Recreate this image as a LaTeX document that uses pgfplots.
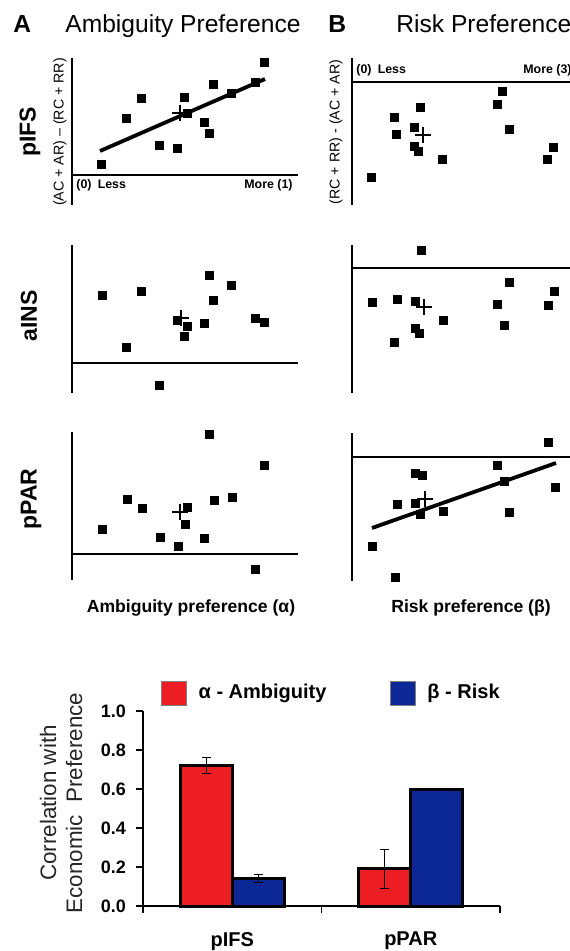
\documentclass[border=0pt]{standalone}
\usepackage{fontspec}
\setmainfont{Liberation Sans}
\usepackage{pgfplots}
\pgfplotsset{compat=1.18}
\definecolor{barred}{RGB}{236,30,36}
\definecolor{barblue}{RGB}{12,40,150}

\pgfplotsset{
  scat/.style={anchor=south west, clip=false, enlargelimits=false,
    axis lines=middle, axis line style={-, line width=0.6pt}, ticks=none,
    xmin=0},
  scatA/.style={scat, x=113pt, y=50pt, xmax=1},
  scatB/.style={scat, x=38pt, y=50pt, xmax=3},
  pts/.style={only marks, mark=square*, mark size=2pt, black},
  mean/.style={only marks, mark=+, mark size=4pt, black, mark options={line width=0.6pt}},
  fit/.style={black, line width=1.9pt, mark=none},
}

\begin{document}
\begin{tikzpicture}
\useasboundingbox (0,0) rectangle (284.5pt,-475.5pt);

% ---- A: ambiguity preference ----
\begin{axis}[scatA, at={(36pt,-102.5pt)}, ymin=-0.30, ymax=1.17]
\addplot[pts] coordinates {(0.128,0.11)(0.239,0.57)(0.305,0.77)(0.385,0.30)(0.465,0.27)
  (0.496,0.78)(0.509,0.62)(0.584,0.53)(0.606,0.42)(0.624,0.91)(0.704,0.82)(0.810,0.93)(0.850,1.13)};
\addplot[fit] coordinates {(0.124,0.24)(0.854,0.96)};
\addplot[mean] coordinates {(0.478,0.62)};
\end{axis}

\begin{axis}[scatA, at={(36pt,-196.5pt)}, ymin=-0.30, ymax=1.18]
\addplot[pts] coordinates {(0.133,0.68)(0.239,0.16)(0.305,0.72)(0.385,-0.22)(0.465,0.43)
  (0.496,0.27)(0.509,0.37)(0.584,0.40)(0.606,0.88)(0.624,0.63)(0.704,0.78)(0.810,0.45)(0.850,0.41)};
\addplot[mean] coordinates {(0.482,0.45)};
\end{axis}

\begin{axis}[scatA, at={(36pt,-290pt)}, ymin=-0.26, ymax=1.22]
\addplot[pts] coordinates {(0.133,0.25)(0.243,0.55)(0.310,0.46)(0.389,0.17)(0.469,0.08)
  (0.500,0.30)(0.509,0.47)(0.588,0.16)(0.606,1.20)(0.628,0.54)(0.708,0.57)(0.810,-0.15)(0.850,0.89)};
\addplot[mean] coordinates {(0.478,0.42)};
\end{axis}

% ---- B: risk preference ----
\begin{axis}[scatB, at={(176pt,-102.5pt)}, ymin=-1.23, ymax=0.24]
\addplot[pts] coordinates {(0.250,-0.95)(0.553,-0.35)(0.579,-0.52)(0.816,-0.45)(0.816,-0.64)
  (0.868,-0.69)(0.895,-0.25)(1.184,-0.77)(1.908,-0.22)(1.974,-0.09)(2.066,-0.47)(2.566,-0.77)(2.645,-0.65)};
\addplot[mean] coordinates {(0.934,-0.53)};
\end{axis}

\begin{axis}[scatB, at={(176pt,-196.5pt)}, ymin=-1.25, ymax=0.23]
\addplot[pts] coordinates {(0.263,-0.34)(0.553,-0.74)(0.592,-0.31)(0.829,-0.33)(0.829,-0.60)
  (0.882,-0.65)(0.908,0.18)(1.197,-0.52)(1.908,-0.36)(2.000,-0.57)(2.066,-0.14)(2.579,-0.37)(2.658,-0.23)};
\addplot[mean] coordinates {(0.947,-0.39)};
\end{axis}

\begin{axis}[scatB, at={(176pt,-290.5pt)}, ymin=-1.24, ymax=0.24]
\addplot[pts] coordinates {(0.263,-0.89)(0.566,-1.20)(0.592,-0.47)(0.829,-0.16)(0.829,-0.46)
  (0.895,-0.57)(0.921,-0.18)(1.197,-0.54)(1.908,-0.08)(2.000,-0.24)(2.066,-0.55)(2.579,0.15)(2.671,-0.30)};
\addplot[fit] coordinates {(0.263,-0.71)(2.684,-0.06)};
\addplot[mean] coordinates {(0.961,-0.42)};
\end{axis}

% ---- bar chart ----
\begin{axis}[anchor=south west, at={(71.5pt,-453pt)},
  x=89.25pt, y=97.5pt, xmin=-0.5, xmax=1.5, ymin=0, ymax=1,
  enlargelimits=false, clip=false,
  axis x line=bottom, axis y line=left,
  axis line style={-, line width=0.6pt},
  tick align=outside, major tick length=3.5pt, tick style={line width=0.6pt, black},
  ybar=0pt, bar width=26pt,
  xtick={-0.5,0.5,1.5}, x tick label as interval, xticklabels={pIFS,pPAR},
  xticklabel style={font=\bfseries\fontsize{10}{12}\selectfont, yshift=-6pt},
  ytick={0,0.2,0.4,0.6,0.8,1},
  yticklabel style={font=\bfseries\fontsize{9}{11}\selectfont, xshift=-1.5pt,
    /pgf/number format/fixed, /pgf/number format/fixed zerofill,
    /pgf/number format/precision=1, /pgf/number format/assume math mode=true},
  every axis plot/.append style={draw=black, line width=1.5pt,
    error bars/y dir=both, error bars/y explicit,
    error bars/error bar style={line width=0.5pt, black},
    error bars/error mark options={rotate=90, mark size=2.2pt, line width=0.5pt, black}},
  legend style={draw=none, fill=none, at={(0.53,1.092)}, anchor=center,
    font=\bfseries\fontsize{10}{12}\selectfont,
    /tikz/every even column/.append style={column sep=29.5pt}},
  legend columns=2,
  legend image code/.code={\draw[#1, line width=0.4pt, draw=black!50] (0pt,-6pt) rectangle (12.5pt,6pt);
    \path (16pt,0pt);},
]
\addplot[fill=barred] coordinates {(0,0.72) +- (0,0.04) (1,0.19) +- (0,0.10)};
\addlegendentry{α - Ambiguity}
\addplot[fill=barblue] coordinates {(0,0.14) +- (0,0.02) (1,0.60) +- (0,0.005)};
\addlegendentry{β - Risk}
\end{axis}

% ---- text ----
\begin{scope}[x=0.5pt, y=-0.5pt]
\node[anchor=base west, inner sep=0, font=\bfseries\fontsize{12.3}{14}\selectfont] at (13,33) {A};
\node[anchor=base west, inner sep=0, font=\fontsize{12.3}{14}\selectfont] at (65,33) {Ambiguity Preference};
\node[anchor=base west, inner sep=0, font=\bfseries\fontsize{12.3}{14}\selectfont] at (328,33) {B};
\node[anchor=base west, inner sep=0, font=\fontsize{12.3}{14}\selectfont] at (396,33) {Risk Preference};

\node[rotate=90, font=\bfseries\fontsize{11.5}{13}\selectfont] at (30,132) {pIFS};
\node[rotate=90, font=\bfseries\fontsize{11.5}{13}\selectfont] at (29,316) {aINS};
\node[rotate=90, font=\bfseries\fontsize{11.5}{13}\selectfont] at (31,499) {pPAR};

\node[rotate=90, font=\fontsize{7.1}{8}\selectfont] at (60,132) {(AC + AR) – (RC + RR)};
\node[rotate=90, font=\fontsize{7.1}{8}\selectfont] at (336,132) {(RC + RR) - (AC + AR)};

\node[anchor=west, inner sep=0, font=\bfseries\fontsize{6.2}{7}\selectfont] at (76,185) {(0)\hspace{0.5em}Less};
\node[anchor=east, inner sep=0, font=\bfseries\fontsize{6.2}{7}\selectfont] at (293,185) {More (1)};
\node[anchor=west, inner sep=0, font=\bfseries\fontsize{6.2}{7}\selectfont] at (356,70) {(0)\hspace{0.5em}Less};
\node[anchor=west, inner sep=0, font=\bfseries\fontsize{6.2}{7}\selectfont] at (523,70) {More (3)};

\node[font=\bfseries\fontsize{8.8}{10}\selectfont] at (191,608) {Ambiguity preference (α)};
\node[font=\bfseries\fontsize{8.8}{10}\selectfont] at (471,608) {Risk preference (β)};

\node[rotate=90, align=center, text=black!85, font=\fontsize{11.2}{13}\selectfont] at (61,803)
  {Correlation with\\Economic\ \ Preference};
\end{scope}
\end{tikzpicture}
\end{document}
